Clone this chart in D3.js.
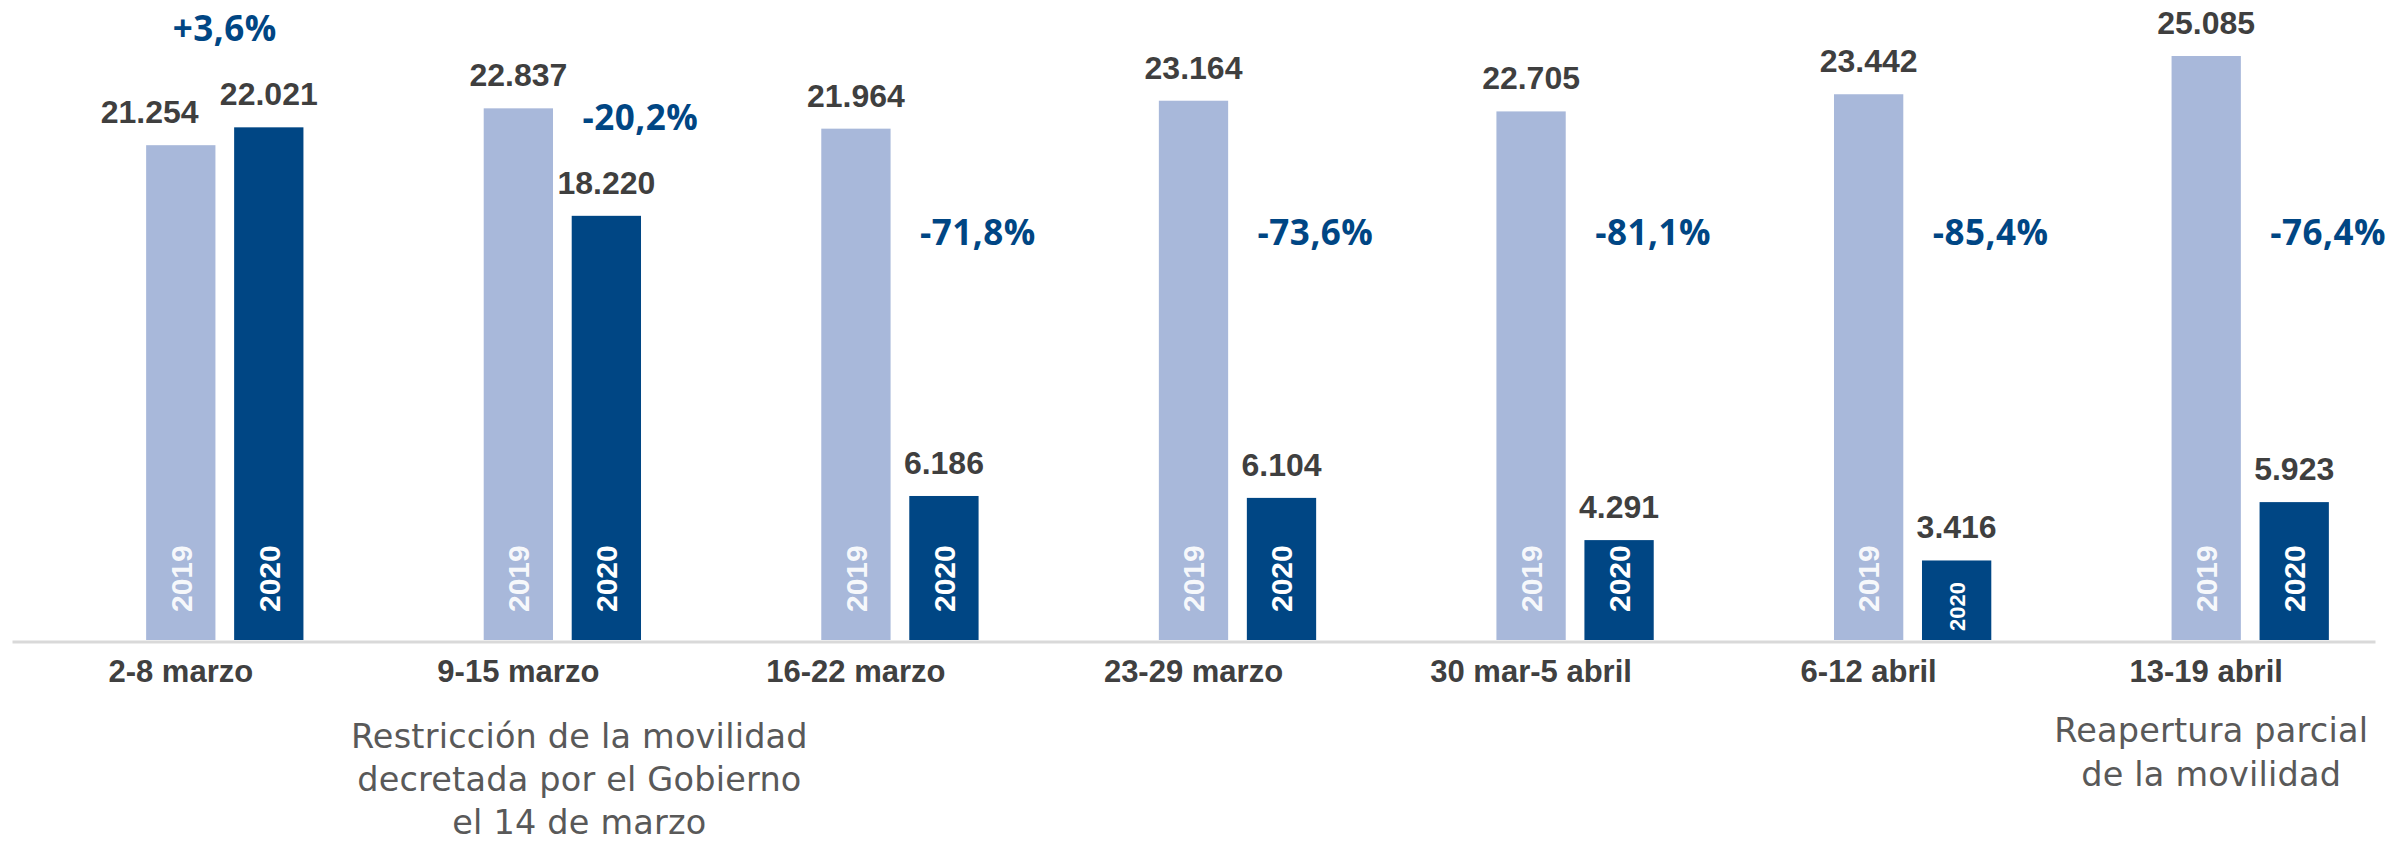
<!DOCTYPE html>
<html>
<head>
<meta charset="utf-8">
<script src="https://cdn.jsdelivr.net/npm/d3@7"></script>
<style>
  html, body { margin: 0; padding: 0; background: #ffffff; }
  svg { display: block; }
</style>
</head>
<body>
<svg id="chart" width="2386" height="845"></svg>
<script>
// ---------- data ----------
const categories = ["2-8 marzo", "9-15 marzo", "16-22 marzo", "23-29 marzo", "30 mar-5 abril", "6-12 abril", "13-19 abril"];
const seriesNames = ["2019", "2020"];
const values2019 = [21254, 22837, 21964, 23164, 22705, 23442, 25085];
const values2020 = [22021, 18220, 6186, 6104, 4291, 3416, 5923];
const changeLabels = ["+3,6%", "-20,2%", "-71,8%", "-73,6%", "-81,1%", "-85,4%", "-76,4%"];
const noteRestriccion = ["Restricción de la movilidad", "decretada por el Gobierno", "el 14 de marzo"];
const noteReapertura = ["Reapertura parcial", "de la movilidad"];

// ---------- styles ----------
const W = 2386, H = 845;
const colLight = "#a8b8da", colDark = "#004684";
const colValue = "#3f3f3f", colPct = "#004684", colNote = "#595959";
const fontBold = "'Liberation Sans', Arial, sans-serif";
const fontPct = "'Open Sans', 'Noto Sans', sans-serif";
const fontNote = "'DejaVu Sans', 'Open Sans', sans-serif";

const svg = d3.select("#chart");
const fmt = d3.formatLocale({decimal: ",", thousands: ".", grouping: [3], currency: ["", ""]}).format(",d");

// ---------- scales ----------
const baseY = 640;
const x = d3.scaleBand().domain(categories).range([12, 2375]).paddingInner(0).paddingOuter(0);
const bw = x.bandwidth();
const slotStep = 88;
const xs = d3.scaleBand().domain(["", ...seriesNames])
  .range([bw / 2 - 1.5 * slotStep, bw / 2 + 1.5 * slotStep])
  .paddingInner(0.2125).paddingOuter(0.2125 / 2);
const y = d3.scaleLinear().domain([0, d3.max(values2019)]).range([baseY, 56]);

const data = categories.map((c, i) => ({
  cat: c, i,
  bars: [
    {s: "2019", v: values2019[i], color: colLight},
    {s: "2020", v: values2020[i], color: colDark}
  ],
  change: changeLabels[i]
}));

// ---------- axis ----------
const axis = d3.axisBottom(x).tickSize(0).tickSizeOuter(0).tickPadding(18.5);
const gAxis = svg.append("g").attr("transform", `translate(0,${baseY + 1.5})`).call(axis);
gAxis.select(".domain").attr("stroke", "#d9d9d9").attr("stroke-width", 3);
gAxis.selectAll(".tick text")
  .attr("font-family", fontBold).attr("font-weight", "bold")
  .attr("font-size", 31).attr("fill", "#404040");

// ---------- bars ----------
const groups = svg.append("g").selectAll("g.grp").data(data).join("g")
  .attr("class", "grp")
  .attr("transform", d => `translate(${x(d.cat)},0)`);

groups.selectAll("rect").data(d => d.bars).join("rect")
  .attr("x", b => xs(b.s))
  .attr("width", xs.bandwidth())
  .attr("y", b => y(b.v))
  .attr("height", b => baseY - y(b.v))
  .attr("fill", b => b.color);

// year labels inside bars (rotated)
groups.selectAll("text.year").data(d => d.bars).join("text")
  .attr("class", "year")
  .each(function(b) {
    const h = baseY - y(b.v);
    const small = h < 95;
    const fs = small ? 22 : 30;
    const off = small ? 9 : 28;
    d3.select(this)
      .attr("transform", `translate(${xs(b.s) + xs.bandwidth() / 2},${baseY - off}) rotate(-90)`)
      .attr("dy", "0.36em")
      .attr("font-size", fs);
  })
  .attr("text-anchor", "start")
  .attr("font-family", fontBold).attr("font-weight", "bold")
  .attr("fill", b => b.s === "2019" ? "rgba(255,255,255,0.92)" : "#ffffff")
  .text(b => b.s);

// value labels
const valGap = 22;
groups.each(function(d) {
  const g = d3.select(this);
  const labels = d.bars.map(b => g.append("text")
    .attr("x", xs(b.s) + xs.bandwidth() / 2)
    .attr("y", y(b.v) - valGap)
    .attr("text-anchor", "middle")
    .attr("font-family", fontBold).attr("font-weight", "bold")
    .attr("font-size", 32).attr("fill", colValue)
    .text(fmt(b.v)));
  // avoid collision between the two value labels
  const a = labels[0].node().getBBox(), c = labels[1].node().getBBox();
  const vOverlap = a.y < c.y + c.height && c.y < a.y + a.height;
  const minGap = 21;
  if (vOverlap && a.x + a.width > c.x - minGap) {
    const shift = a.x + a.width - (c.x - minGap);
    labels[0].attr("x", +labels[0].attr("x") - shift);
  }
  d.labelTop = Math.min(a.y, c.y);
  d.label2020Top = c.y;
});

// percentage change labels
const pctBaseY = 245;
groups.append("text")
  .attr("x", d => d.bars[1].v > d.bars[0].v ? bw / 2 + slotStep / 2 : xs("2020") + xs.bandwidth() / 2 + 34)
  .attr("y", d => {
    const ref = d.bars[1].v > d.bars[0].v ? d.labelTop : d.label2020Top;
    return Math.min(pctBaseY, ref - 35);
  })
  .attr("text-anchor", "middle")
  .attr("font-family", fontPct).attr("font-weight", 700)
  .attr("font-size", 35).attr("letter-spacing", 0.5)
  .attr("fill", colPct)
  .text(d => d.change);

// ---------- annotations ----------
function note(lines, cat, dx, firstBase, lineH) {
  const t = svg.append("text")
    .attr("text-anchor", "middle")
    .attr("font-family", fontNote).attr("font-weight", 400)
    .attr("font-size", 33.5).attr("letter-spacing", 0.2)
    .attr("fill", colNote);
  lines.forEach((l, k) => {
    t.append("tspan")
      .attr("x", x(cat) + bw / 2 + dx)
      .attr("y", firstBase + k * lineH)
      .text(l);
  });
}
note(noteRestriccion, categories[1], 61, 748, 43);
note(noteReapertura, categories[6], 5, 742, 43.5);
</script>
</body>
</html>
